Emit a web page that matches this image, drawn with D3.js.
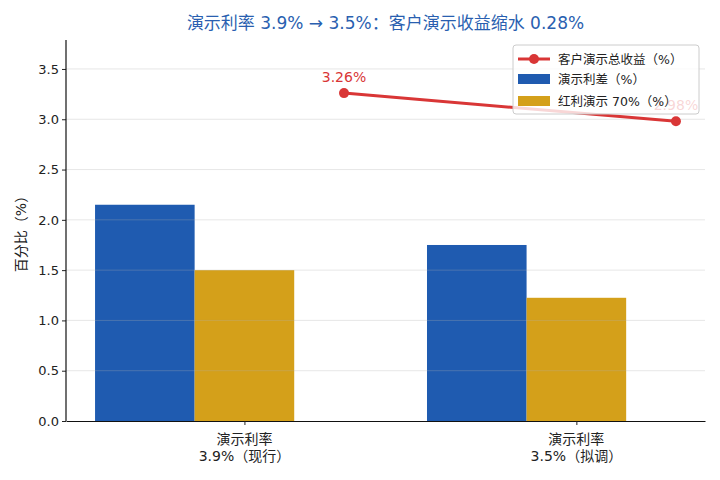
<!DOCTYPE html>
<html>
<head>
<meta charset="utf-8">
<script src="https://cdn.jsdelivr.net/npm/d3@7"></script>
<style>
  body { margin: 0; background: #fff; }
  text { font-family: "DejaVu Sans", "Noto Sans CJK SC", sans-serif; }
</style>
</head>
<body>
<div class="board"></div>
<script>
// ============================
// DATA
// ============================
var categories = ['演示利率\n3.9%（现行）', '演示利率\n3.5%（拟调）'];
var spreadValues = [2.15, 1.75];
var dividendValues = [1.50, 1.225];
var totalValues = [3.26, 2.98];
var yTicks = [0, 0.5, 1.0, 1.5, 2.0, 2.5, 3.0, 3.5];
var legendLabels = ['客户演示总收益（%）', '演示利差（%）', '红利演示 70%（%）'];

var blue = '#1f5bb0';
var gold = '#d4a01a';
var red = '#d93636';

/*
=================================
CONTAINER + SCALES
=================================
*/
var W = 720, H = 480;
var mLeft = 66, mRight = 705, mTop = 40, mBottom = 421;

var svg = d3.select('.board').append('svg')
  .attr('width', W)
  .attr('height', H);

var x = d3.scaleLinear().domain([-0.5375, 1.3875]).range([mLeft, mRight]);
var y = d3.scaleLinear().domain([0, 3.788]).range([mBottom, mTop]);
var barW = 0.3;

// bars: spread centred at i - w, dividend centred at i
svg.selectAll('rect.spread')
  .data(spreadValues)
  .enter().append('rect')
  .attr('class', 'spread')
  .attr('x', (d, i) => x(i - 1.5 * barW))
  .attr('width', x(barW) - x(0))
  .attr('y', d => y(d))
  .attr('height', d => y(0) - y(d))
  .attr('fill', blue);

svg.selectAll('rect.div')
  .data(dividendValues)
  .enter().append('rect')
  .attr('class', 'div')
  .attr('x', (d, i) => x(i - 0.5 * barW))
  .attr('width', x(barW) - x(0))
  .attr('y', d => y(d))
  .attr('height', d => y(0) - y(d))
  .attr('fill', gold);

// grid (drawn over bars, faint)
svg.append('g')
  .selectAll('line')
  .data(yTicks.slice(1))
  .enter().append('line')
  .attr('x1', mLeft).attr('x2', mRight)
  .attr('y1', d => y(d)).attr('y2', d => y(d))
  .attr('stroke', '#b0b0b0')
  .attr('stroke-opacity', 0.3)
  .attr('stroke-width', 1);

// total line
var line = d3.line()
  .x((d, i) => x(i + barW))
  .y(d => y(d));

svg.append('path')
  .datum(totalValues)
  .attr('d', line)
  .attr('fill', 'none')
  .attr('stroke', red)
  .attr('stroke-width', 3);

svg.selectAll('circle.pt')
  .data(totalValues)
  .enter().append('circle')
  .attr('class', 'pt')
  .attr('cx', (d, i) => x(i + barW))
  .attr('cy', d => y(d))
  .attr('r', 5)
  .attr('fill', red);

svg.selectAll('text.val')
  .data(totalValues)
  .enter().append('text')
  .attr('class', 'val')
  .attr('x', (d, i) => x(i + barW))
  .attr('y', d => y(d) - 11)
  .attr('text-anchor', 'middle')
  .attr('font-size', 14)
  .attr('fill', red)
  .text(d => d.toFixed(2) + '%');

/*
=================================
AXES
=================================
*/
var yAxis = svg.append('g')
  .attr('transform', 'translate(' + mLeft + ',0)')
  .call(d3.axisLeft(y).tickValues(yTicks).tickFormat(d3.format('.1f')).tickSize(4).tickSizeOuter(0));
yAxis.select('.domain').remove();
yAxis.selectAll('text').attr('font-size', 13).attr('fill', '#222')
  .attr('font-family', '"DejaVu Sans", sans-serif');
yAxis.selectAll('line').attr('stroke', '#222');

svg.append('line')
  .attr('x1', mLeft).attr('x2', mLeft)
  .attr('y1', mTop).attr('y2', mBottom)
  .attr('stroke', '#111').attr('stroke-width', 1.2);

var xAxis = svg.append('g')
  .attr('transform', 'translate(0,' + mBottom + ')')
  .call(d3.axisBottom(x).tickValues([0, 1]).tickFormat('').tickSize(4).tickSizeOuter(0));
xAxis.select('.domain').attr('stroke', '#111').attr('stroke-width', 1.2);
xAxis.selectAll('line').attr('stroke', '#222');

categories.forEach(function(c, i) {
  var t = svg.append('text')
    .attr('x', x(i))
    .attr('y', mBottom + 23)
    .attr('text-anchor', 'middle')
    .attr('font-size', 14)
    .attr('fill', '#222');
  c.split('\n').forEach(function(part, j) {
    t.append('tspan').attr('x', x(i)).attr('dy', j ? 17 : 0).text(part);
  });
});

svg.append('text')
  .attr('transform', 'translate(26,' + ((mTop + mBottom) / 2) + ') rotate(-90)')
  .attr('text-anchor', 'middle')
  .attr('font-size', 14)
  .attr('fill', '#222')
  .text('百分比（%）');

// title
svg.append('text')
  .attr('x', (mLeft + mRight) / 2)
  .attr('y', 29)
  .attr('text-anchor', 'middle')
  .attr('font-size', 17)
  .attr('fill', '#2a5fb0')
  .text('演示利率 3.9% → 3.5%：客户演示收益缩水 0.28%');

/*
=================================
LEGEND
=================================
*/
var lg = svg.append('g').attr('transform', 'translate(513,45)');
lg.append('rect')
  .attr('width', 186).attr('height', 69).attr('rx', 3)
  .attr('fill', '#fff').attr('fill-opacity', 0.8)
  .attr('stroke', '#ccc');

var rowsY = [14, 34, 56];
lg.append('line').attr('x1', 5).attr('x2', 37).attr('y1', rowsY[0]).attr('y2', rowsY[0])
  .attr('stroke', red).attr('stroke-width', 3);
lg.append('circle').attr('cx', 21).attr('cy', rowsY[0]).attr('r', 5).attr('fill', red);
lg.append('rect').attr('x', 5).attr('y', rowsY[1] - 5).attr('width', 32).attr('height', 10).attr('fill', blue);
lg.append('rect').attr('x', 5).attr('y', rowsY[2] - 5).attr('width', 32).attr('height', 10).attr('fill', gold);

lg.selectAll('text.lab')
  .data(legendLabels)
  .enter().append('text')
  .attr('class', 'lab')
  .attr('x', 45)
  .attr('y', (d, i) => rowsY[i] + 4.5)
  .attr('font-size', 12.5)
  .attr('fill', '#222')
  .text(d => d);
</script>
</body>
</html>
